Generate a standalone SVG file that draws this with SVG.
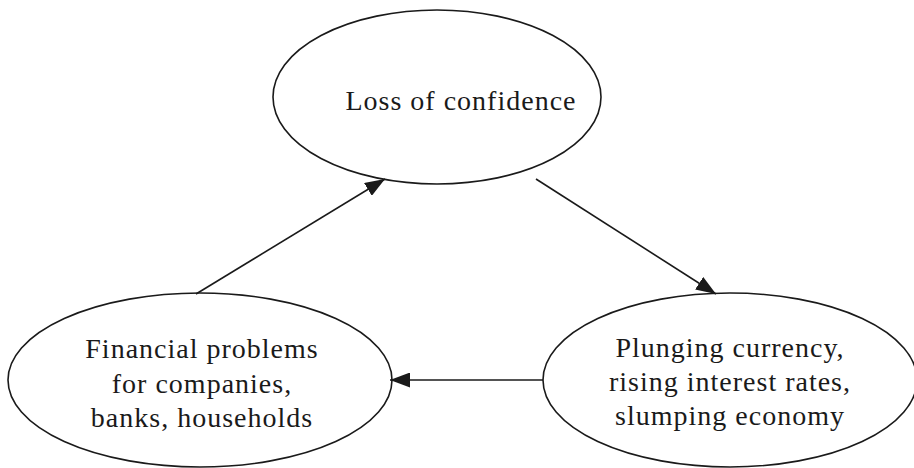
<svg xmlns="http://www.w3.org/2000/svg" width="914" height="468" viewBox="0 0 914 468">
<style>
.node ellipse{fill:#fff;stroke:#1a1a1a;stroke-width:1.6}
.node text{font-family:"Liberation Serif","Times New Roman",serif;font-size:28px;letter-spacing:1px;fill:#1a1a1a;text-anchor:middle}
.conn line{stroke:#1a1a1a;stroke-width:1.6}
</style>
<defs>
<marker id="ah" viewBox="0 0 20 15" refX="20" refY="7.5" markerWidth="20" markerHeight="15" markerUnits="userSpaceOnUse" orient="auto">
<path d="M0,0 L20,7.5 L0,15 Z" fill="#1a1a1a"/>
</marker>
</defs>
<rect width="914" height="468" fill="#fff"/>
<g id="loss">
<g class="node">
<ellipse cx="437" cy="97" rx="164" ry="87"/>
<text x="461" y="110">Loss of confidence</text>
</g>
</g>
<g id="financial">
<g class="node">
<ellipse cx="200" cy="380" rx="192" ry="87"/>
<text x="202" y="358">Financial problems</text>
<text x="202" y="393">for companies,</text>
<text x="202" y="427">banks, households</text>
</g>
</g>
<g id="plunging">
<g class="node">
<ellipse cx="730" cy="380" rx="187" ry="87"/>
<text x="730" y="357">Plunging currency,</text>
<text x="730" y="391">rising interest rates,</text>
<text x="730" y="425">slumping economy</text>
</g>
</g>
<g id="connectors" class="conn">
<line x1="196" y1="294" x2="385" y2="179" marker-end="url(#ah)"/>
<line x1="536" y1="179" x2="716" y2="294" marker-end="url(#ah)"/>
<line x1="543" y1="380" x2="390" y2="380" marker-end="url(#ah)"/>
</g>
</svg>
